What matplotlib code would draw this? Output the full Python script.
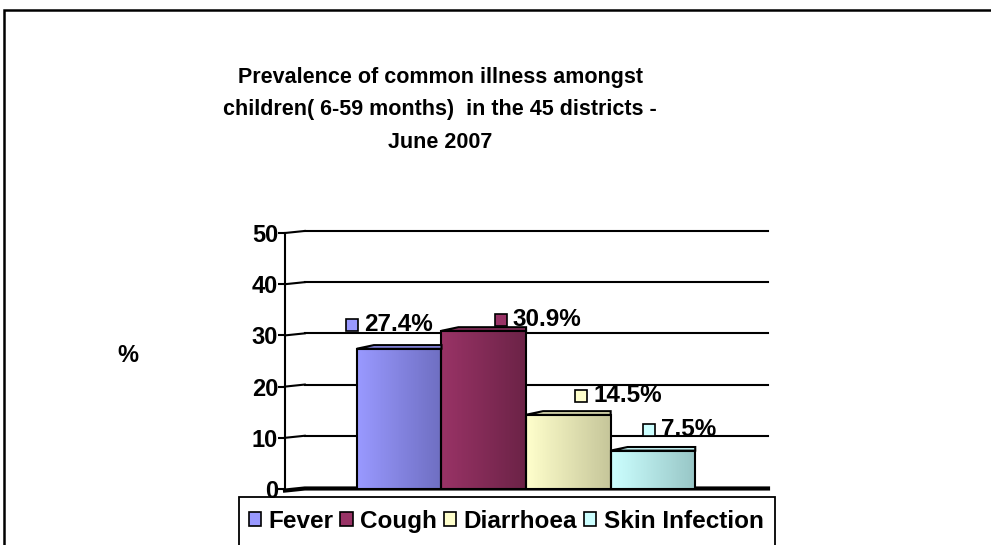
import numpy as np
import matplotlib
matplotlib.use('Agg')
import matplotlib.pyplot as plt
from matplotlib.colors import LinearSegmentedColormap
from matplotlib.patches import Rectangle, Polygon
from matplotlib.transforms import offset_copy

plt.rcParams['font.family'] = ['Liberation Sans', 'DejaVu Sans']
plt.rcParams['font.weight'] = 'bold'

# illness prevalence, per cent of children 6-59 months
illness = ['Fever', 'Cough', 'Diarrhoea', 'Skin Infection']
prevalence = [27.4, 30.9, 14.5, 7.5]
light = ['#9999ff', '#993366', '#ffffcc', '#ccffff']
dark = ['#6f6fc2', '#6c2347', '#c6c69a', '#98c6c6']

# where each value label sits relative to its bar top (pixels)
label_dx = [-47, 17, 13, -4]
label_dy = [24, 11, 19, 21]

fig = plt.figure(figsize=(9.91, 5.45), dpi=100)
W, H = 991, 545

# outer frame
fig.patches.append(Rectangle((4 / W, -0.1), 1.2, 1 - 10 / H + 0.1,
                             transform=fig.transFigure, fill=False,
                             edgecolor='black', lw=1.8, zorder=0))

ax = fig.add_axes([285 / W, 1 - 489 / H, (768 - 285) / W, (489 - 233) / H])
ax.set_ylim(0, 50)
ax.set_xlim(-1.35, 4.36)
ax.set_facecolor('none')
for s in ['top', 'right', 'bottom']:
    ax.spines[s].set_visible(False)
ax.spines['left'].set_linewidth(1.5)
ax.set_xticks([])
ax.set_yticks(range(0, 51, 10))
ax.tick_params(axis='y', length=5, width=1.5, labelsize=17, pad=0)
for t in ax.get_yticklabels():
    t.set_fontweight('bold')

# back wall gridlines with a slanted join to the axis
x_lo, x_hi = ax.get_xlim()
x_wall = x_lo + 0.041 * (x_hi - x_lo)
for yv in range(10, 51, 10):
    ax.plot([x_lo, x_wall], [yv, yv + 0.4], color='black', lw=1.5, clip_on=False)
    ax.plot([x_wall, x_hi], [yv + 0.4, yv + 0.4], color='black', lw=1.5, clip_on=False)
# floor
ax.plot([x_lo, x_wall, x_hi], [-0.3, 0.1, 0.1], color='black', lw=3, clip_on=False)

bars = ax.bar(range(len(illness)), prevalence, width=1.0, color='none',
              edgecolor='black', lw=1.5, zorder=3)

for i, b in enumerate(bars):
    x0 = b.get_x()
    x1 = x0 + b.get_width()
    h = b.get_height()
    cmap = LinearSegmentedColormap.from_list('g', [light[i], dark[i]])
    grad = np.linspace(0, 1, 64).reshape(1, -1)
    im = ax.imshow(grad, cmap=cmap, extent=[x0, x1, 0, h], aspect='auto',
                   zorder=2)
    im.set_clip_path(b)
    cap = Polygon([[x0, h], [x0 + 0.2, h + 0.7], [x1, h + 0.7], [x1, h]],
                  closed=True, facecolor=light[i], edgecolor='black',
                  lw=1.5, zorder=4)
    ax.add_patch(cap)

    cx = x0 + b.get_width() / 2
    tr_sq = offset_copy(ax.transData, fig=fig, x=label_dx[i], y=label_dy[i],
                        units='dots')
    ax.plot([cx], [h], marker='s', ms=8, mfc=light[i], mec='black', mew=1.2,
            transform=tr_sq, clip_on=False, zorder=5)
    tr_tx = offset_copy(ax.transData, fig=fig, x=label_dx[i] + 12,
                        y=label_dy[i], units='dots')
    ax.text(cx, h, f'{prevalence[i]}%', transform=tr_tx, ha='left',
            va='center', fontsize=17.5, fontweight='bold', zorder=5)

ax.set_xlim(x_lo, x_hi)
ax.set_ylim(0, 50)

# title
title_lines = ['Prevalence of common illness amongst',
               'children( 6-59 months)  in the 45 districts -',
               'June 2007']
for k, line in enumerate(title_lines):
    fig.text(440 / W, 1 - (77.5 + 32.5 * k) / H, line, ha='center',
             va='center', fontsize=15.5, fontweight='bold')

fig.text(128 / W, 1 - 355 / H, '%', ha='center', va='center',
         fontsize=17, fontweight='bold')

# legend, its box runs off the bottom of the figure
handles = [Rectangle((0, 0), 1, 1, facecolor=light[i], edgecolor='black',
                     lw=1.2) for i in range(len(illness))]
leg = fig.legend(handles, illness, loc='upper left',
                 bbox_to_anchor=(239 / W, 1 - 500 / H), ncol=4,
                 prop={'size': 17.5, 'weight': 'bold'}, frameon=False,
                 handlelength=0.5, handleheight=0.5,
                 handletextpad=0.3, columnspacing=0.3, borderpad=0.4,
                 borderaxespad=0)
fig.patches.append(Rectangle((239 / W, -0.1), (775 - 239) / W,
                             0.1 + 1 - 497 / H, transform=fig.transFigure,
                             fill=False, edgecolor='black', lw=1.3))

fig.savefig('out.png', dpi=100)
